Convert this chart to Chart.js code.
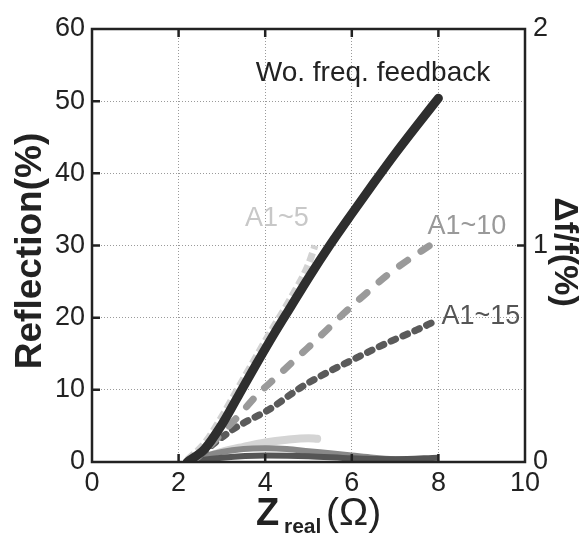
<!DOCTYPE html>
<html>
<head>
<meta charset="utf-8">
<script src="https://cdn.jsdelivr.net/npm/chart.js@4"></script>
<style>
  body { margin: 0; background: #fff; }
  #wrap { width: 581px; height: 535px; }
</style>
</head>
<body>
<div id="wrap"><canvas id="myChart" width="581" height="535"></canvas></div>
<script>
// reflection (%) vs Zreal (ohm), left axis
const woX = [2.2, 2.6, 3.0, 3.4, 3.8, 4.2, 4.6, 5.0, 5.5, 6.0, 6.5, 7.0, 7.5, 8.0];
const woY = [0, 1.8, 5.2, 9.4, 13.6, 17.7, 21.6, 25.5, 30.1, 34.4, 38.6, 42.7, 46.6, 50.4];

const a5X = [2.2, 2.6, 3.0, 3.4, 3.8, 4.2, 4.6, 5.0, 5.15];
const a5Y = [0.3, 2.6, 6.3, 10.5, 14.7, 18.8, 22.8, 27.4, 30];

const a10X = [2.3, 2.6, 3.0, 3.4, 3.8, 4.3, 4.8, 5.3, 5.8, 6.3, 6.8, 7.3, 7.8];
const a10Y = [0, 1.5, 4, 6.5, 9.2, 12, 14.8, 17.6, 20.5, 23.2, 25.8, 28, 30];

const a15X = [2.3, 2.7, 3.3, 4.07, 4.84, 5.4, 6.0, 6.5, 7.0, 7.5, 7.88];
const a15Y = [0, 2, 4.7, 7.2, 10.4, 12.3, 14.1, 15.6, 17, 18.3, 19.4];

// delta f / f (%), right axis
const df5X = [2.2, 2.6, 3.0, 3.5, 4.0, 4.5, 5.0, 5.2];
const df5Y = [0, 0.02, 0.047, 0.07, 0.09, 0.103, 0.11, 0.107];

const df10X = [2.2, 2.6, 3.0, 3.5, 4.0, 4.5, 5.0, 5.5, 6.0, 6.5, 7.0, 7.5, 7.8];
const df10Y = [0, 0.027, 0.047, 0.06, 0.063, 0.06, 0.05, 0.04, 0.03, 0.02, 0.013, 0.01, 0.01];

const df15X = [2.2, 3.0, 4.0, 5.0, 6.0, 7.0, 8.0];
const df15Y = [0, 0.02, 0.03, 0.027, 0.017, 0.013, 0.02];

const xTicks = [0, 2, 4, 6, 8, 10];
const yTicks = [0, 10, 20, 30, 40, 50, 60];
const y2Ticks = [0, 1, 2];

const FONT = "'Liberation Sans', Arial, sans-serif";

function pts(xs, ys) {
    return xs.map((x, i) => ({ x: x, y: ys[i] }));
}

// frame, inside ticks, axis titles and curve labels
const decor = {
    id: "decor",
    afterDraw(chart) {
        const ctx = chart.ctx;
        const a = chart.chartArea;
        const sx = chart.scales.x, sy = chart.scales.y, sy2 = chart.scales.y2;
        ctx.save();
        ctx.strokeStyle = "#222";
        ctx.lineWidth = 2.5;
        ctx.strokeRect(a.left, a.top, a.right - a.left, a.bottom - a.top);
        ctx.beginPath();
        [2, 4, 6, 8].forEach(v => {
            const px = sx.getPixelForValue(v);
            ctx.moveTo(px, a.bottom); ctx.lineTo(px, a.bottom - 8);
            ctx.moveTo(px, a.top); ctx.lineTo(px, a.top + 8);
        });
        [10, 20, 30, 40, 50].forEach(v => {
            const py = sy.getPixelForValue(v);
            ctx.moveTo(a.left, py); ctx.lineTo(a.left + 8, py);
        });
        const p1 = sy2.getPixelForValue(1);
        ctx.moveTo(a.right, p1); ctx.lineTo(a.right - 8, p1);
        ctx.stroke();

        // curve labels
        ctx.textAlign = "center";
        ctx.textBaseline = "middle";
        const labels = [
            ["Wo. freq. feedback", 6.49, 53.9, "#222", 28],
            ["A1~5", 4.27, 33.7, "#c8c8c8", 27],
            ["A1~10", 8.66, 32.6, "#999", 27],
            ["A1~15", 8.98, 20.2, "#555", 27]
        ];
        labels.forEach(l => {
            ctx.fillStyle = l[3];
            ctx.font = l[4] + "px " + FONT;
            ctx.fillText(l[0], sx.getPixelForValue(l[1]), sy.getPixelForValue(l[2]));
        });

        // axis titles
        ctx.fillStyle = "#222";
        ctx.save();
        ctx.translate(31, 251);
        ctx.rotate(-Math.PI / 2);
        ctx.font = "bold 37px " + FONT;
        ctx.fillText("Reflection(%)", 0, 0);
        ctx.restore();

        ctx.save();
        ctx.translate(564, 252);
        ctx.rotate(Math.PI / 2);
        ctx.font = "bold 34px " + FONT;
        ctx.fillText("\u0394f/f(%)", 0, 0);
        ctx.restore();

        ctx.textAlign = "left";
        ctx.textBaseline = "alphabetic";
        ctx.font = "bold 38px " + FONT;
        ctx.fillText("Z", 256, 525);
        ctx.font = "bold 21px " + FONT;
        ctx.fillText("real", 284, 533);
        ctx.font = "39px " + FONT;
        ctx.fillText("(\u03A9)", 326, 525);
        ctx.restore();
    }
};

const ctx = document.getElementById("myChart").getContext("2d");
const myChart = new Chart(ctx, {
    type: "line",
    data: {
        datasets: [
            { label: "Wo. freq. feedback", data: pts(woX, woY), borderColor: "#2e2e2e", borderWidth: 9, borderCapStyle: "round", yAxisID: "y" },
            { label: "A1~5", data: pts(a5X, a5Y), borderColor: "#d2d2d2", borderWidth: 7, borderDash: [9, 4], yAxisID: "y" },
            { label: "A1~10", data: pts(a10X, a10Y), borderColor: "#9a9a9a", borderWidth: 7, borderCapStyle: "round", borderDash: [10, 16], yAxisID: "y" },
            { label: "A1~15", data: pts(a15X, a15Y), borderColor: "#5a5a5a", borderWidth: 7, borderCapStyle: "round", borderDash: [5, 8], yAxisID: "y" },
            { label: "df A1~15", data: pts(df15X, df15Y), borderColor: "#555", borderWidth: 6, yAxisID: "y2" },
            { label: "df A1~10", data: pts(df10X, df10Y), borderColor: "#888", borderWidth: 6, yAxisID: "y2" },
            { label: "df A1~5", data: pts(df5X, df5Y), borderColor: "#d4d4d4", borderWidth: 8, borderCapStyle: "round", yAxisID: "y2" }
        ]
    },
    options: {
        responsive: false,
        animation: false,
        devicePixelRatio: 1,
        layout: { padding: { top: 29, right: 0, left: 0, bottom: 0 } },
        elements: {
            point: { radius: 0 },
            line: { cubicInterpolationMode: "monotone", fill: false }
        },
        plugins: { legend: { display: false }, tooltip: { enabled: false } },
        scales: {
            x: {
                type: "linear",
                min: 0, max: 10,
                afterFit(s) { s.height = 73; },
                afterBuildTicks(s) { s.ticks = xTicks.map(v => ({ value: v })); },
                grid: { color: "#9a9a9a", lineWidth: 1, drawTicks: false },
                border: { display: false, dash: [1, 2] },
                ticks: { color: "#222", padding: 5, font: { size: 27, family: FONT }, maxRotation: 0 }
            },
            y: {
                position: "left",
                min: 0, max: 60,
                afterFit(s) { s.width = 92; },
                afterBuildTicks(s) { s.ticks = yTicks.map(v => ({ value: v })); },
                grid: { color: "#9a9a9a", lineWidth: 1, drawTicks: false },
                border: { display: false, dash: [1, 2] },
                ticks: { color: "#222", padding: 7, font: { size: 27, family: FONT } }
            },
            y2: {
                position: "right",
                min: 0, max: 2,
                afterFit(s) { s.width = 56; },
                afterBuildTicks(s) { s.ticks = y2Ticks.map(v => ({ value: v })); },
                grid: { display: false, drawTicks: false },
                border: { display: false },
                ticks: { color: "#222", padding: 8, font: { size: 27, family: FONT } }
            }
        }
    },
    plugins: [decor]
});
</script>
</body>
</html>
